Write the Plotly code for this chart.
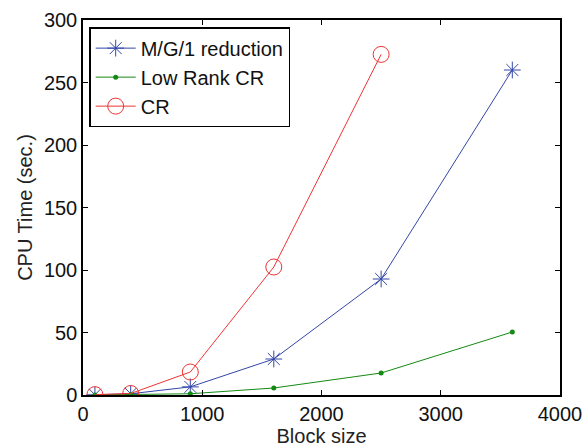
import plotly.graph_objects as go

block_size = [100, 400, 900, 1600, 2500, 3600]
mg1_time = [0.2, 1.0, 6.5, 28.8, 92.8, 260]
lowrank_time = [0.05, 0.3, 1.0, 5.6, 17.6, 50.4]
cr_block_size = [100, 400, 900, 1600, 2500]
cr_time = [0.3, 1.2, 18.4, 102.4, 272.5]

FONT = "Liberation Sans, Arial, Helvetica"
BLUE = "#3346a8"
GREEN = "#138a13"
RED = "#ee3333"

fig = go.Figure()
fig.add_trace(go.Scatter(x=block_size, y=mg1_time, mode="lines+markers", name="M/G/1 reduction",
                         line=dict(color=BLUE, width=1),
                         marker=dict(symbol="asterisk-open", size=14, color=BLUE, line=dict(width=1, color=BLUE))))
fig.add_trace(go.Scatter(x=block_size, y=lowrank_time, mode="lines+markers", name="Low Rank CR",
                         line=dict(color=GREEN, width=1),
                         marker=dict(symbol="circle", size=5, color=GREEN)))
fig.add_trace(go.Scatter(x=cr_block_size, y=cr_time, mode="lines+markers", name="CR",
                         line=dict(color=RED, width=1),
                         marker=dict(symbol="circle-open", size=16, color=RED, line=dict(width=1, color=RED))))

axis_common = dict(showgrid=False, zeroline=False, showline=True, linecolor="black", linewidth=1.5,
                   mirror="ticks", ticks="inside", ticklen=5, tickcolor="black", automargin=False,
                   tickfont=dict(family=FONT, size=20, color="#111"))
fig.update_xaxes(range=[0, 4000], tickvals=[0, 1000, 2000, 3000, 4000],
                 title=dict(text="Block size", font=dict(family=FONT, size=20, color="#222"), standoff=4),
                 **axis_common)
fig.update_yaxes(range=[0, 300], tickvals=[0, 50, 100, 150, 200, 250, 300],
                 title=dict(text="CPU Time (sec.)", font=dict(family=FONT, size=20, color="#222"), standoff=6),
                 **axis_common)
fig.update_layout(width=586, height=448, margin=dict(l=83, r=26, t=20, b=53, autoexpand=False),
                  paper_bgcolor="white", plot_bgcolor="white",
                  font=dict(family=FONT, color="black"),
                  legend=dict(x=0.013, y=0.981, xanchor="left", yanchor="top",
                              bgcolor="white", bordercolor="black", borderwidth=1.5,
                              font=dict(size=20, color="#111"), tracegroupgap=0, itemwidth=40))
fig.write_html("out.html")
